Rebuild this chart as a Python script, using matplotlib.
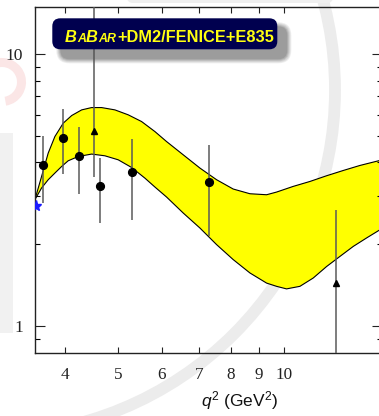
import numpy as np
import matplotlib
matplotlib.use('Agg')
import matplotlib.pyplot as plt
from matplotlib.patches import FancyBboxPatch, Circle, Rectangle, Wedge
from matplotlib.transforms import Affine2D
from matplotlib.ticker import FixedLocator, NullFormatter, FixedFormatter

# ---------------- data ----------------
band_up_q2 = [3.528, 3.628, 3.730, 3.836, 3.972, 4.115, 4.290, 4.472, 4.663, 4.930,
              5.212, 5.511, 5.826, 6.117, 6.558, 7.032, 7.541, 8.082, 8.667, 9.292,
              9.688, 10.38, 11.14, 11.94, 12.80, 13.72, 14.86, 15.10]
band_up_g = [2.917, 3.551, 4.329, 4.983, 5.580, 5.952, 6.243, 6.367, 6.367, 6.243,
             5.987, 5.656, 5.197, 4.775, 4.268, 3.815, 3.455, 3.194, 3.069, 3.043,
             3.113, 3.265, 3.406, 3.574, 3.737, 3.899, 4.061, 4.09]
band_lo_q2 = [3.528, 3.628, 3.730, 3.836, 3.946, 4.055, 4.229, 4.472, 4.727, 4.998,
              5.285, 5.587, 5.826, 6.117, 6.558, 7.032, 7.541, 8.082, 8.667, 9.292,
              9.688, 10.10, 10.68, 11.29, 11.94, 12.62, 13.35, 14.11, 14.86, 15.10]
band_lo_g = [2.917, 3.221, 3.455, 3.656, 3.867, 4.057, 4.207, 4.294, 4.232, 4.091,
             3.834, 3.504, 3.249, 2.985, 2.607, 2.296, 1.994, 1.757, 1.569, 1.440,
             1.401, 1.371, 1.401, 1.503, 1.657, 1.804, 1.965, 2.110, 2.250, 2.29]

circ_q2 = [3.65, 3.96, 4.25, 4.63, 5.29, 7.29]
circ_g = [3.92, 4.94, 4.23, 3.28, 3.69, 3.40]
circ_lo = [2.84, 3.63, 3.07, 2.40, 2.46, 2.15]
circ_hi = [5.02, 6.28, 5.39, 4.15, 4.89, 4.63]

tri_q2 = [4.52, 12.40]
tri_g = [5.24, 1.44]
tri_lo = [3.55, 0.5]
tri_hi = [25.0, 2.68]

star_q2 = [3.55]
star_g = [2.77]

xticks = [4, 5, 6, 7, 8, 9, 10]
xticklabels = ['4', '5', '6', '7', '8', '9', '10']
yticks = [1, 10]
yticklabels = ['1', '10']
yminor = [0.9, 2, 3, 4, 5, 6, 7, 8, 9]

legend_parts = [('B', 'big', True), ('A', 'small', True), ('B', 'big', True),
                ('AR', 'small', True), ('+DM2/FENICE+E835', 'big', False)]

# ---------------- figure ----------------
W, H = 379, 416
fig = plt.figure(figsize=(W / 100, H / 100), dpi=100)
fig.patch.set_facecolor('white')
px = Affine2D().scale(1 / W, -1 / H).translate(0, 1) + fig.transFigure

# faint watermark (background logo)
fig.patches.append(Circle((-10, 90), 345, fill=False, lw=8.5, ec='#ECECEC',
                          transform=px, zorder=-5))
fig.patches.append(Rectangle((0, 133), 12.5, 200, fc='#F1F1F1', ec='none',
                             transform=px, zorder=-5))
fig.patches.append(Wedge((2, 82), 24, -110, 80, width=9, fc='#FBE6E6', ec='none',
                         transform=px, zorder=-5))
fig.patches.append(FancyBboxPatch((127, -12), 206, 15,
                                  boxstyle='round,pad=0,rounding_size=6',
                                  fc='#EFEFEF', ec='none', transform=px, zorder=-5))

ax = fig.add_axes([35 / W, 1 - 352.5 / H, (381.5 - 35) / W, (352.5 - 6.7) / H])
ax.patch.set_alpha(0)
ax.set_xscale('log')
ax.set_yscale('log')
ax.set_xlim(3.53, 15.02)
ax.set_ylim(0.80, 14.96)

# band
poly_x = np.concatenate([band_up_q2, band_lo_q2[::-1]])
poly_y = np.concatenate([band_up_g, band_lo_g[::-1]])
ax.fill(poly_x, poly_y, color='#FFFF00', lw=0, zorder=1)
ax.plot(band_up_q2, band_up_g, color='black', lw=0.8, zorder=2)
ax.plot(band_lo_q2, band_lo_g, color='black', lw=0.8, zorder=2)

# data
cg = np.array(circ_g)
ax.errorbar(circ_q2, circ_g, yerr=[cg - np.array(circ_lo), np.array(circ_hi) - cg],
            fmt='o', color='black', ms=5.6, ecolor='#5a5a5a', elinewidth=1.1,
            capsize=0, zorder=4)
tg = np.array(tri_g)
ax.errorbar(tri_q2, tri_g, yerr=[tg - np.array(tri_lo), np.array(tri_hi) - tg],
            fmt='^', color='black', ms=5.0, ecolor='#5a5a5a', elinewidth=1.1,
            capsize=0, zorder=4)
ax.plot(star_q2, star_g, marker='*', color='#1a1aff', ms=8, ls='none', zorder=5)

# ticks
ax.xaxis.set_major_locator(FixedLocator(xticks))
ax.xaxis.set_major_formatter(FixedFormatter(xticklabels))
ax.xaxis.set_minor_locator(FixedLocator([]))
ax.xaxis.set_minor_formatter(NullFormatter())
ax.yaxis.set_major_locator(FixedLocator(yticks))
ax.yaxis.set_major_formatter(FixedFormatter(yticklabels))
ax.yaxis.set_minor_locator(FixedLocator(yminor))
ax.yaxis.set_minor_formatter(NullFormatter())

ax.tick_params(axis='x', which='major', direction='in', top=True, bottom=True,
               length=4, width=0.8, pad=10.5, labelsize=12.3, colors='#222222')
ax.tick_params(axis='y', which='major', direction='in', left=True, right=True,
               length=7.5, width=0.8, pad=8.5, labelsize=12.6, colors='#222222')
ax.tick_params(axis='y', which='minor', direction='in', left=True, right=True,
               length=3.8, width=0.8)
for lab in ax.get_xticklabels() + ax.get_yticklabels():
    lab.set_fontfamily('Liberation Serif')
for sp in ax.spines.values():
    sp.set_linewidth(1.0)
    sp.set_color('#222222')

# x label
plt.rcParams['mathtext.fontset'] = 'custom'
plt.rcParams['mathtext.it'] = 'Liberation Sans:italic'
plt.rcParams['mathtext.rm'] = 'Liberation Sans'
fig.text(240 / W, 1 - 401 / H, r'$q^2$ (GeV$^2$)', ha='center', va='center',
         fontsize=12.5, family='Liberation Sans', color='#111111')

# legend box with shadow
bx, by, bw, bh = 52.3, 18.3, 225.0, 31.0
for i, a in enumerate([0.10, 0.12, 0.15, 0.18, 0.22]):
    g = 5 - i
    fig.patches.append(FancyBboxPatch((bx + 9 - g, by + 9 - g), bw + 2 * g, bh + 2 * g,
                                      boxstyle='round,pad=0,rounding_size=%g' % (8 + g),
                                      fc='#555555', ec='none', alpha=a, transform=px,
                                      zorder=8))
fig.patches.append(FancyBboxPatch((bx, by), bw, bh,
                                  boxstyle='round,pad=0,rounding_size=8',
                                  fc='#00004f', ec='none', transform=px, zorder=9))

renderer = fig.canvas.get_renderer()
cx = 65.0
base_y = 41.7
for txt, size, ital in legend_parts:
    fs = 11.8 if size == 'big' else 8.9
    t = fig.text(cx / W, 1 - base_y / H, txt, ha='left', va='baseline',
                 fontsize=fs, fontweight='bold',
                 fontstyle='italic' if ital else 'normal',
                 family='Liberation Sans', color='#FFFF10', zorder=10)
    bb = t.get_window_extent(renderer)
    cx += bb.width + (1.5 if txt == 'AR' else 0)

fig.savefig('out.png', dpi=100)
